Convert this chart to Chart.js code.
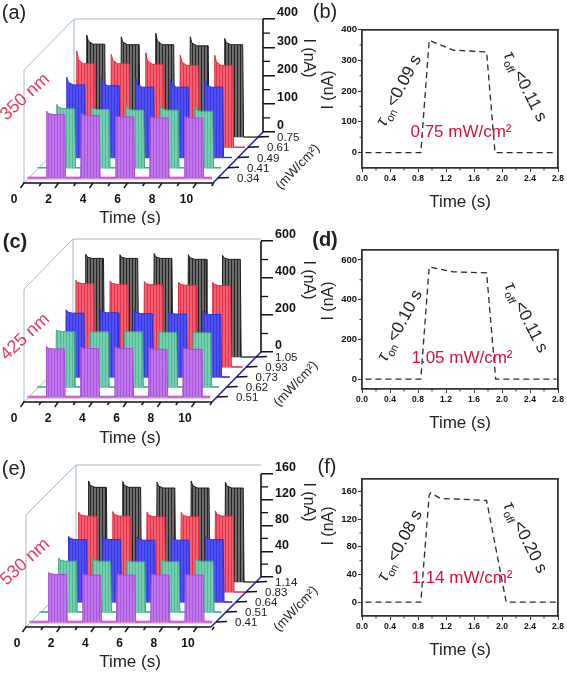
<!DOCTYPE html>
<html><head><meta charset="utf-8">
<style>
html,body{margin:0;padding:0;background:#fff;width:567px;height:673px;overflow:hidden}
canvas{position:absolute;filter:blur(0.45px)}
</style>
<script src="https://cdn.jsdelivr.net/npm/chart.js@4"></script>
</head><body>
<script>
// ---------- data ----------
const pulseOnsets = [1, 3, 5, 7, 9];
const timeTicks3d = [0, 2, 4, 6, 8, 10];
const timeMinor3d = [1, 3, 5, 7, 9, 11];

const powerA = ['0.34', '0.41', '0.49', '0.61', '0.75'];
const powerC = ['0.51', '0.62', '0.73', '0.93', '1.05'];
const powerE = ['0.41', '0.51', '0.64', '0.83', '1.14'];

const peaksA = [[236,228,218,218,218],[224,218,224,221,216],[284,284,281,277,275],[341,329,335,326,326],[361,355,368,355,349]];
const platsA = [[224,221,216,212,212],[209,206,204,204,200],[257,254,249,249,249],[296,296,294,290,290],[329,327,327,323,327]];
const peaksC = [[273,270,273,268,268],[309,300,305,303,300],[364,366,362,358,356],[469,465,462,460,458],[556,553,560,553,550]];
const platsC = [[260,262,262,258,258],[300,298,298,296,293],[345,347,342,340,338],[451,447,445,442,440],[533,533,533,528,528]];
const peaksE = [[77,75,75,75,75],[84,84,82,82,83],[102,102,101,101,102],[124,125,124,124,126],[157,156,155,157,155]];
const platsE = [[74,73,73,73,73],[79,79,78,78,79],[97,97,96,96,97],[118,118,117,117,118],[147,147,146,146,146]];
const baselineEnds = [10.6, 10.55, 10.6, 10.77, 11];

const yTicksA = [0,100,200,300,400], yMinorA = [50,150,250,350];
const yTicksC = [0,200,400,600],     yMinorC = [100,300,500];
const yTicksE = [0,40,80,120,160],   yMinorE = [20,60,100,140];

const timeB = [0.05,0.84,0.96,1.30,1.78,1.90,2.75];
const curB  = [0,0,365,333,327,0,0];
const timeD = [0.05,0.84,0.96,1.30,1.78,1.91,2.78];
const curD  = [0,0,565,540,535,0,0];
const timeF = [0.05,0.84,0.96,0.98,1.12,1.78,2.06,2.78];
const curF  = [0,0,155,158,150,147,0,0];

const xTicks2d = [0,0.4,0.8,1.2,1.6,2.0,2.4,2.8];
const xMinor2d = [0.2,0.6,1.0,1.4,1.8,2.2,2.6];
const yTicksB = [0,100,200,300,400], yMinorB = [50,150,250,350];
const yTicksD = [0,200,400,600],     yMinorD = [100,300,500];
const yTicksF = [0,40,80,120,160],   yMinorF = [20,60,100,140];

// ---------- styles ----------
const FONT = '"Liberation Sans", Arial, sans-serif';
const seriesStyle = [
  {light:'#bf76e8', dark:'#ab52de', line:'#a84cda', floor:'#dc8fd0', fw:3},
  {light:'#74cfae', dark:'#52b996', line:'#3fa884', floor:'#55b89a', fw:1.5},
  {light:'#5050f2', dark:'#3838e4', line:'#3030d8', floor:'#5050e0', fw:1.5},
  {light:'#f2606e', dark:'#e4324a', line:'#e02c44', floor:'#e0709a', fw:1.5},
  {light:'#6c6c6c', dark:'#242424', line:'#1c1c1c', floor:'#c4c4c8', fw:2}
];
function stripes(s){
  const c=document.createElement('canvas');c.width=3;c.height=3;
  const g=c.getContext('2d');g.fillStyle=s.light;g.fillRect(0,0,3,3);
  g.fillStyle=s.dark;g.fillRect(0,0,1,3);
  return g.createPattern(c,'repeat');
}
function mkCanvas(x,y,w,h){
  const c=document.createElement('canvas');c.width=w;c.height=h;
  c.style.left=x+'px';c.style.top=y+'px';c.style.width=w+'px';c.style.height=h+'px';
  document.body.appendChild(c);return c;
}
function drawText(ctx,t){
  ctx.save();ctx.translate(t.x,t.y);ctx.rotate((t.rot||0)*Math.PI/180);
  ctx.font=t.font;ctx.fillStyle=t.color||'#222';ctx.textAlign=t.align||'center';ctx.textBaseline='middle';
  ctx.fillText(t.text,0,0);ctx.restore();
}
function fixBox(o){return function(s){
  if(o.w!==undefined)s.width=o.w;
  if(o.h!==undefined)s.height=o.h;
  s.paddingLeft=s.paddingRight=s.paddingTop=s.paddingBottom=0;
};}
function fixedTicks(list){return function(s){s.ticks=list.map(v=>({value:v}));};}

// ---------- 3D waterfall panels ----------
function waterfall(cfg){
  const {y0,H,L,T,R,B,floorY,backX,unit,yTop,topTickY,peaks,plats,powers,yTicks,yMinor,texts,labelShift,zLabelX}=cfg;
  const W=320, dx=backX-L, dy=B-floorY, k=(floorY-topTickY)/yTop;
  const frontR=R-dx, tMax=(R-L)/unit;
  const scales={};
  scales.x={type:'linear',position:'bottom',min:0,max:tMax,
    afterBuildTicks:fixedTicks(timeTicks3d),afterFit:fixBox({h:H-B}),
    grid:{display:false,drawTicks:false},border:{display:false},
    ticks:{autoSkip:false,maxRotation:0,padding:9,labelOffset:labelShift,color:'#111',font:{family:FONT,size:12,weight:'bold'},callback:v=>String(v)}};
  scales.y={type:'linear',position:'right',min:(floorY-B)/k,max:(floorY-T)/k,
    afterBuildTicks:fixedTicks(yTicks),afterFit:fixBox({w:W-R}),
    grid:{drawOnChartArea:false,drawTicks:true,tickLength:12,tickWidth:1.5,tickColor:'#111',lineWidth:1.5},border:{display:false},
    ticks:{autoSkip:false,maxRotation:0,padding:2,labelOffset:-6,color:'#111',font:{family:FONT,size:12.5,weight:'bold'},callback:v=>String(v)}};
  const datasets=[];
  peaks.forEach((pk,d)=>{
    const ox=(d+0.5)*dx/5, oy=(d+0.5)*dy/5, base=B-oy;
    const xMin=-ox/unit;
    scales['x'+d]={type:'linear',display:false,min:xMin,max:xMin+tMax};
    scales['y'+d]={type:'linear',display:false,min:(base-B)/k,max:(base-T)/k};
    const st=seriesStyle[d];
    const pts=[{x:0,y:0}];
    pulseOnsets.forEach((on,i)=>{
      pts.push({x:on,y:0},{x:on+0.03,y:pk[i]},{x:on+0.12,y:(pk[i]+plats[d][i]*2)/3},{x:on+0.4,y:plats[d][i]},{x:on+1.07,y:plats[d][i]},{x:on+1.12,y:0});
    });
    pts.push({x:baselineEnds[d],y:0});
    datasets.push({label:powers[d],data:pts,xAxisID:'x'+d,yAxisID:'y'+d,order:d,showLine:true,clip:false,pointRadius:0,tension:0,
      borderColor:st.line,borderWidth:1,backgroundColor:stripes(st),fill:'origin'});
    datasets.push({label:powers[d]+' floor',data:[{x:-0.1,y:0},{x:baselineEnds[d],y:0}],xAxisID:'x'+d,yAxisID:'y'+d,order:d+0.5,showLine:true,clip:false,pointRadius:0,
      borderColor:st.floor,borderWidth:st.fw,fill:false});
  });
  const deco={id:'deco',
    beforeDatasetsDraw(ch){
      const c=ch.ctx;c.save();c.strokeStyle='#a9b9c4';c.lineWidth=1;c.beginPath();
      const leftTop=T+dy;
      c.moveTo(L,B);c.lineTo(L,leftTop);c.lineTo(backX,T);c.lineTo(R,T);
      c.moveTo(backX,T);c.lineTo(backX,floorY);
      c.moveTo(L,B);c.lineTo(backX,floorY);
      c.stroke();c.restore();
    },
    afterDatasetsDraw(ch){
      const c=ch.ctx, sx=ch.scales.x, sy=ch.scales.y;c.save();
      c.strokeStyle='#111';c.lineWidth=1.6;c.beginPath();c.moveTo(L-1,B);c.lineTo(frontR,B);c.stroke();
      const tk=(v,len)=>{const px=sx.getPixelForValue(v);c.beginPath();c.moveTo(px,B);c.lineTo(px-len*0.7,B+len);c.stroke();};
      c.lineWidth=1.4;timeTicks3d.forEach(v=>tk(v,5));timeMinor3d.forEach(v=>tk(v,3));
      c.strokeStyle='#2424a8';c.lineWidth=1.6;c.beginPath();c.moveTo(frontR,B);c.lineTo(R,floorY);c.stroke();
      c.strokeStyle='#111';c.lineWidth=1.5;
      powers.forEach((p,d)=>{
        const f=(d+0.5)/5, px=frontR+dx*f, py=B-dy*f;
        c.beginPath();c.moveTo(px,py);c.lineTo(px+11,py-0.5);c.stroke();
        drawText(c,{text:p,x:px+zLabelX,y:py+1,font:'11.5px '+FONT,color:'#222',align:'left'});
      });
      c.lineWidth=1.6;c.beginPath();c.moveTo(R,sy.getPixelForValue(yTop));c.lineTo(R,floorY+0.5);c.stroke();
      c.lineWidth=1.3;yMinor.forEach(v=>{const py=sy.getPixelForValue(v);c.beginPath();c.moveTo(R,py);c.lineTo(R+7,py);c.stroke();});
      texts.forEach(t=>drawText(c,t));
      c.restore();
    }};
  new Chart(mkCanvas(0,y0,W,H),{type:'scatter',data:{datasets},plugins:[deco],
    options:{responsive:false,animation:false,events:[],layout:{autoPadding:false,padding:{left:L,top:T,right:0,bottom:0}},
      plugins:{legend:{display:false},tooltip:{enabled:false}},scales}});
}

// ---------- 2D response panels ----------
function response(cfg){
  const {y0,H,top,bottom,times,cur,yMin,yMax,yTicks,yMinor,texts,tauOn,tauOff}=cfg;
  const X0=300,W=267,left=62,right=258;
  const frameBorder={display:true,width:1.8,color:'#333'};
  const deco={id:'deco',afterDatasetsDraw(ch){
    const c=ch.ctx,sx=ch.scales.x,sy=ch.scales.y,a=ch.chartArea;c.save();
    c.strokeStyle='#333';c.lineWidth=1;
    xMinor2d.forEach(v=>{const p=sx.getPixelForValue(v);c.beginPath();c.moveTo(p,a.bottom);c.lineTo(p,a.bottom+2.5);c.stroke();});
    yMinor.forEach(v=>{const p=sy.getPixelForValue(v);c.beginPath();c.moveTo(a.left,p);c.lineTo(a.left-2.5,p);c.stroke();});
    texts.forEach(t=>drawText(c,t));
    [tauOn,tauOff].forEach(t=>{
      c.save();c.translate(t.x,t.y);c.rotate(t.rot*Math.PI/180);c.fillStyle='#222';c.textBaseline='alphabetic';c.textAlign='left';
      const big='17px '+FONT, small='11px '+FONT;
      c.font='italic '+big;const w1=c.measureText('τ').width;
      c.font=small;const w2=c.measureText(t.sub).width;
      c.font=big;const w3=c.measureText(t.text).width;
      const s=-(w1+w2+w3+3)/2;
      c.font='italic '+big;c.fillText('τ',s,6);
      c.font=small;c.fillText(t.sub,s+w1+1,10);
      c.font=big;c.fillText(t.text,s+w1+w2+3,6);
      c.restore();
    });
    c.restore();
  }};
  new Chart(mkCanvas(X0,y0,W,H),{type:'line',
    data:{datasets:[{label:'I',data:times.map((t,i)=>({x:t,y:cur[i]})),borderColor:'#2a2a2a',borderWidth:1.3,borderDash:[6,4],pointRadius:0,tension:0,fill:false}]},
    plugins:[deco],
    options:{responsive:false,animation:false,events:[],layout:{autoPadding:false,padding:{left:0,top,right:W-right,bottom:0}},
      plugins:{legend:{display:false},tooltip:{enabled:false}},
      scales:{
        x:{type:'linear',position:'bottom',min:0,max:2.8,afterBuildTicks:fixedTicks(xTicks2d),afterFit:fixBox({h:H-bottom}),
          grid:{drawOnChartArea:false,tickLength:4,tickColor:'#333'},border:frameBorder,
          title:{display:true,text:'Time (s)',color:'#222',font:{family:FONT,size:17},padding:{top:0,bottom:cfg.titleBottom}},
          ticks:{autoSkip:false,maxRotation:0,padding:2,color:'#111',font:{family:FONT,size:8.5,weight:'bold'},callback:v=>v.toFixed(1)}},
        y:{type:'linear',position:'left',min:yMin,max:yMax,afterBuildTicks:fixedTicks(yTicks),afterFit:fixBox({w:left}),
          grid:{drawOnChartArea:false,tickLength:4,tickColor:'#333'},border:frameBorder,
          ticks:{autoSkip:false,padding:1,color:'#111',font:{family:FONT,size:9.5,weight:'bold'},callback:v=>String(v)}},
        xTop:{type:'linear',position:'top',min:0,max:2.8,afterFit:fixBox({h:0}),grid:{display:false,drawTicks:false},border:frameBorder,ticks:{display:false}},
        yRight:{type:'linear',position:'right',min:yMin,max:yMax,afterFit:fixBox({w:0}),grid:{display:false,drawTicks:false},border:frameBorder,ticks:{display:false}}
      }}});
}

const big=s=>s+'px '+FONT, RED='#e83a60', CRIM='#d4123c';
const UNITS='(mW/cm²)';
waterfall({y0:0,H:225,L:24,T:19,R:263,B:183,floorY:132,backX:74,unit:17.25,yTop:400,topTickY:19,labelShift:-10,zLabelX:19,
  peaks:peaksA,plats:platsA,powers:powerA,yTicks:yTicksA,yMinor:yMinorA,
  texts:[{text:'(a)',x:14,y:13,font:big(20)},{text:'350 nm',x:25,y:97,rot:-43,font:big(18),color:RED},
    {text:'Time (s)',x:130,y:218,font:big(17)},{text:'I (nA)',x:308,y:58,rot:90,font:big(16)},
    {text:UNITS,x:298,y:167,rot:-46,font:big(13)}]});
waterfall({y0:225,H:225,L:24,T:14,R:261,B:177,floorY:127,backX:73,unit:17.1,yTop:600,topTickY:16,labelShift:-10,zLabelX:19,
  peaks:peaksC,plats:platsC,powers:powerC,yTicks:yTicksC,yMinor:yMinorC,
  texts:[{text:'(c)',x:15,y:17,font:'bold '+big(20)},{text:'425 nm',x:25,y:112,rot:-43,font:big(18),color:RED},
    {text:'Time (s)',x:130,y:213,font:big(17)},{text:'I (nA)',x:308,y:55,rot:90,font:big(16)},
    {text:UNITS,x:296,y:159,rot:-46,font:big(13)}]});
waterfall({y0:450,H:223,L:26,T:15,R:261,B:177,floorY:127,backX:76,unit:17.1,yTop:160,topTickY:24,labelShift:-9,zLabelX:19,
  peaks:peaksE,plats:platsE,powers:powerE,yTicks:yTicksE,yMinor:yMinorE,
  texts:[{text:'(e)',x:14,y:19,font:big(20)},{text:'530 nm',x:25,y:112,rot:-43,font:big(18),color:RED},
    {text:'Time (s)',x:130,y:212,font:big(17)},{text:'I (nA)',x:308,y:52,rot:90,font:big(16)},
    {text:UNITS,x:296,y:159,rot:-46,font:big(13)}]});

response({y0:0,H:225,top:29.5,bottom:168,times:timeB,cur:curB,yMin:-50,yMax:400,yTicks:yTicksB,yMinor:yMinorB,titleBottom:12,
  texts:[{text:'(b)',x:25,y:12,font:big(20)},{text:'I (nA)',x:29,y:90,rot:-90,font:big(16)},
    {text:'0.75 mW/cm²',x:161,y:132,font:big(17),color:CRIM}],
  tauOn:{sub:'on',text:'<0.09 s',x:98,y:90,rot:-62},tauOff:{sub:'off',text:'<0.11 s',x:226,y:86,rot:63}});
response({y0:225,H:225,top:25,bottom:164,times:timeD,cur:curD,yMin:-50,yMax:650,yTicks:yTicksD,yMinor:yMinorD,titleBottom:16,
  texts:[{text:'(d)',x:25,y:15,font:'bold '+big(20)},{text:'I (nA)',x:29,y:76,rot:-90,font:big(16)},
    {text:'1.05 mW/cm²',x:162,y:133,font:big(17),color:CRIM}],
  tauOn:{sub:'on',text:'<0.10 s',x:99,y:100,rot:-62},tauOff:{sub:'off',text:'<0.11 s',x:227,y:92,rot:63}});
response({y0:450,H:223,top:29,bottom:166,times:timeF,cur:curF,yMin:-20,yMax:178,yTicks:yTicksF,yMinor:yMinorF,titleBottom:12,
  texts:[{text:'(f)',x:27,y:17,font:big(20)},{text:'I (nA)',x:29,y:76,rot:-90,font:big(16)},
    {text:'1.14 mW/cm²',x:162,y:128,font:big(17),color:CRIM}],
  tauOn:{sub:'on',text:'<0.08 s',x:99,y:95,rot:-62},tauOff:{sub:'off',text:'<0.20 s',x:226,y:87,rot:63}});
</script>
</body></html>
